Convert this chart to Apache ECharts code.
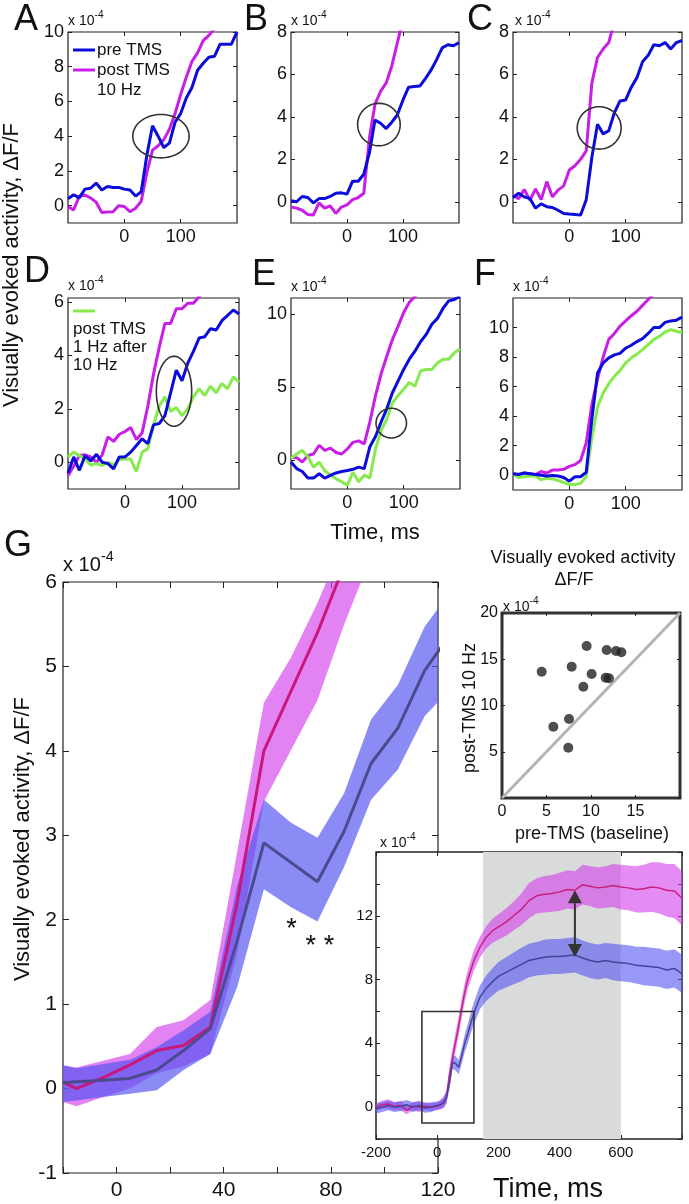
<!DOCTYPE html>
<html>
<head>
<meta charset="utf-8">
<title>TMS visually evoked activity</title>
<script src="https://cdn.jsdelivr.net/npm/echarts@6/dist/echarts.min.js"></script>
<style>
html, body { margin: 0; padding: 0; background: #fff; }
#main { width: 689px; height: 1204px; }
</style>
</head>
<body>
<div id="main"></div>
<script>
// time base (ms) for panels A-F
var t10 = [-100,-90,-80,-70,-60,-50,-40,-30,-20,-10,0,10,20,30,40,50,60,70,80,90,100,110,120,130,140,150,160,170,180,190,200];

// A
var aPre  = [0.4,0.63,0.45,0.95,1.0,1.3,0.9,1.1,1.05,1.05,0.95,0.9,0.55,0.8,2.9,4.6,4.0,3.35,3.6,4.8,5.3,6.2,6.8,7.8,8.2,8.55,8.6,9.3,9.3,9.3,10.0];
var aPost = [-0.05,-0.25,0.55,0.6,0.45,0.2,-0.4,-0.37,-0.35,0.0,-0.05,-0.35,-0.15,0.25,1.9,3.2,3.45,3.8,4.4,5.3,6.4,7.4,8.3,8.8,9.5,9.8,10.2,10.8];
// B
var bPre  = [0.05,0.0,0.25,0.2,-0.05,0.15,0.15,0.25,0.4,0.42,0.36,0.97,0.97,1.3,2.3,3.85,3.7,3.45,3.75,4.1,4.8,5.4,5.43,5.45,5.8,6.2,6.7,7.25,7.4,7.35,7.5];
var bPost = [-0.25,-0.3,-0.4,-0.6,-0.62,-0.05,-0.3,-0.2,-0.55,-0.25,-0.15,0.1,0.2,0.4,3.0,4.6,5.2,5.6,6.4,7.5,8.6];
// C
var cPre  = [0.2,0.4,0.23,0.15,-0.3,-0.1,-0.23,-0.27,-0.4,-0.55,-0.58,-0.6,-0.62,0.1,2.1,3.65,3.2,3.35,4.2,4.75,4.8,5.4,5.85,6.6,6.9,7.4,7.35,7.5,7.2,7.5,7.6];
var cPost = [0.3,0.15,0.58,0.08,0.6,0.1,0.95,0.23,0.55,0.75,1.5,1.7,2.0,2.4,5.6,6.8,7.2,7.5,8.5];
// D
var dPre   = [-0.4,0.2,-0.3,0.25,0.05,0.3,0.0,-0.05,-0.25,0.2,0.2,0.38,0.63,0.88,0.7,1.4,1.45,1.75,2.6,3.45,3.05,3.7,4.15,4.65,4.7,5.0,4.95,5.3,5.5,5.7,5.55];
var dPost  = [-0.5,-0.15,0.25,0.28,0.2,0.0,0.28,0.95,0.78,1.05,1.15,1.3,0.85,1.1,2.1,3.3,4.3,5.2,5.2,5.75,5.75,5.95,5.95,6.2,6.4];
var dGreen = [0.2,0.38,0.25,0.12,-0.1,-0.05,-0.12,0.0,-0.1,0.1,0.12,0.12,-0.35,0.38,0.5,1.4,2.1,2.45,1.9,2.05,1.75,2.0,2.45,2.75,2.5,2.85,2.6,2.95,2.75,3.2,3.0];
// E
var ePre   = [-0.15,-0.6,-0.8,-1.25,-1.25,-0.95,-1.25,-1.07,-0.9,-0.8,-0.73,-0.65,-0.5,-0.6,0.9,1.6,2.6,3.5,4.6,5.4,6.2,6.9,7.45,8.1,8.6,9.3,9.7,10.4,10.9,11.0,11.2];
var ePost  = [0.18,0.15,-0.15,0.3,0.4,1.0,0.65,0.8,0.5,0.4,0.75,1.2,1.3,1.1,2.6,4.4,5.9,7.1,8.25,9.15,10.1,10.8,11.2,11.6];
var eGreen = [0.1,0.4,0.65,0.2,-0.5,-0.15,-0.75,-1.05,-1.3,-1.5,-1.75,-0.85,-1.5,-1.05,-1.25,0.75,2.0,2.8,3.9,4.4,4.85,5.3,5.05,6.1,6.2,6.2,6.65,6.9,6.9,7.35,7.6];
// F
var fPre   = [0.1,0.05,0.15,0.1,0.05,0.0,-0.05,-0.02,-0.05,-0.15,-0.4,-0.1,-0.1,0.2,3.8,6.9,7.6,7.95,8.15,8.25,8.6,8.8,9.05,9.25,9.6,10.0,10.0,10.35,10.45,10.5,10.7];
var fPost  = [0.1,0.05,0.15,0.1,0.05,0.25,0.15,0.35,0.35,0.4,0.6,0.72,1.0,2.2,4.8,6.5,8.0,9.2,9.6,10.1,10.45,10.8,11.1,11.5,11.9,12.3];
var fGreen = [0.1,-0.15,-0.1,-0.05,-0.05,-0.3,-0.2,-0.25,-0.35,-0.5,-0.63,-0.63,-0.55,-0.1,2.5,4.6,5.56,6.2,6.7,7.1,7.6,7.95,8.2,8.5,8.85,9.2,9.4,9.7,9.85,9.75,9.65];

// circled regions: [time, value, x radius (ms), y radius]
var ellA = [65, 4.0, 50, 1.25];
var ellB = [57, 3.64, 38, 1.0];
var ellC = [53, 3.48, 39, 1.0];
var ellD = [86, 2.66, 31, 1.31];
var ellE = [78, 2.52, 27, 1.02];

// G: group means with shaded error
var gTime      = [-20,-15,-5,5,15,25,35,45,55,65,75,85,95,105,115,125];
var gPostMean  = [0.08,0.0,0.13,0.28,0.45,0.51,0.73,2.2,4.0,4.7,5.4,6.2,7.0,7.8,8.5,9.2];
var gPostUpper = [0.27,0.25,0.33,0.41,0.73,0.81,1.05,2.8,4.57,5.1,5.75,6.5,7.3,8.1,8.8,9.5];
var gPostLower = [-0.16,-0.21,-0.1,0.0,0.18,0.26,0.41,1.6,3.4,4.0,4.6,5.5,6.3,7.0,7.7,8.4];
var gPreMean   = [0.07,0.08,0.1,0.12,0.22,0.45,0.71,1.75,2.91,2.68,2.45,3.05,3.85,4.27,4.95,5.4];
var gPreUpper  = [0.28,0.24,0.29,0.34,0.49,0.69,0.91,2.4,3.42,3.15,2.97,3.5,4.37,4.78,5.47,5.9];
var gPreLower  = [-0.16,-0.14,-0.1,-0.06,-0.02,0.22,0.41,1.2,2.36,2.15,1.98,2.63,3.42,3.78,4.41,4.75];
var gStarPos   = [[65.3, 1.96], [75.9, 1.755]];
var gStarText  = ['*', '* *'];

// scatter: pre vs post (x 10^-4)
var scatterPre  = [4.46,5.77,7.45,7.53,7.83,9.14,9.51,10.07,11.65,12.02,11.76,12.81,13.41];
var scatterPost = [13.65,7.71,5.44,8.54,14.2,12.03,16.43,13.4,13.0,12.94,16.0,15.89,15.75];
var identityLine = [0, 20];

// long time course inset
var insetT = [-200,-180,-160,-140,-120,-100,-80,-60,-40,-20,0,10,20,30,40,50,60,70,80,90,100,110,120,140,160,180,200,225,250,275,300,325,350,375,400,425,450,475,500,525,550,575,600,625,650,675,700,725,750,775,800];
var insetPostMean = [0.0,0.15,0.2,0.05,0.1,-0.2,0.05,0.0,0.05,0.0,0.05,0.15,0.3,0.6,2.0,3.1,4.1,5.05,6.2,7.2,8.0,8.6,9.2,10.05,10.65,11.05,11.3,11.6,12.0,12.4,12.95,13.25,13.35,13.4,13.5,13.65,13.6,13.95,13.85,13.75,13.8,13.9,13.8,13.75,13.65,13.7,13.8,13.75,13.6,13.55,13.1];
var insetPostSem  = [0.25,0.25,0.3,0.25,0.3,0.25,0.25,0.3,0.25,0.25,0.25,0.3,0.35,0.4,0.5,0.55,0.6,0.6,0.6,0.6,0.6,0.62,0.65,0.65,0.7,0.75,0.8,0.85,0.9,1.0,1.1,1.1,1.15,1.15,1.2,1.2,1.2,1.25,1.25,1.3,1.3,1.35,1.4,1.4,1.45,1.5,1.55,1.6,1.65,1.7,1.7];
var insetPreMean  = [-0.1,0.0,0.1,0.0,0.05,0.15,0.0,0.1,-0.05,0.0,0.1,0.15,0.25,0.6,1.5,2.8,2.75,2.5,3.2,4.0,4.6,5.3,5.9,6.9,7.45,7.85,8.2,8.45,8.7,8.95,9.2,9.3,9.4,9.45,9.45,9.5,9.55,9.35,9.2,9.1,9.2,9.1,9.05,9.0,8.9,8.85,8.8,8.75,8.6,8.7,8.35];
var insetPreSem   = [0.3,0.3,0.3,0.3,0.3,0.3,0.3,0.3,0.3,0.3,0.25,0.25,0.3,0.35,0.4,0.4,0.45,0.45,0.5,0.55,0.6,0.65,0.7,0.75,0.8,0.85,0.9,0.95,1.0,1.05,1.05,1.05,1.1,1.1,1.1,1.1,1.1,1.1,1.1,1.1,1.1,1.15,1.15,1.15,1.15,1.2,1.2,1.2,1.2,1.2,1.2];
var insetWindow = [150, 600];
var insetZoomBox = [-50, -1, 120, 6];
var insetArrow = [450, 13.6, 9.41];

var FONT = '"Liberation Sans", Arial, sans-serif';
var BLUE = '#0b0bdc', MAG = '#c81ee6', GREEN = '#86ea4c';

var grids = [], xAxes = [], yAxes = [], series = [], graphics = [];

// one framed plot: grid + bottom/top x axes + left/right y axes
function addPanel(c) {
  var zl = c.zlevel || 0;
  var gi = grids.length;
  grids.push({
    left: c.box[0], top: c.box[1], width: c.box[2], height: c.box[3],
    show: true, borderColor: c.borderColor || '#222', borderWidth: c.border || 1.2,
    backgroundColor: c.bg || 'transparent', zlevel: zl, containLabel: false, outerBoundsMode: 'none'
  });
  var tick = {show: true, inside: true, length: c.tick || 4, lineStyle: {color: '#222', width: 1}};
  var lbl = {color: '#111', fontFamily: FONT, fontSize: c.fs};
  var line = {show: false, onZero: false};
  var xi = xAxes.length, yi = yAxes.length;
  xAxes.push({gridIndex: gi, type: 'value', min: c.x[0], max: c.x[1], position: 'bottom', zlevel: zl,
    axisLine: line, splitLine: {show: false},
    axisTick: Object.assign({customValues: c.xt}, tick),
    axisLabel: Object.assign({customValues: c.xl, margin: c.xm || 5}, lbl)});
  xAxes.push({gridIndex: gi, type: 'value', min: c.x[0], max: c.x[1], position: 'top', zlevel: zl,
    axisLine: line, splitLine: {show: false},
    axisTick: Object.assign({customValues: c.xt}, tick), axisLabel: {show: false}});
  yAxes.push({gridIndex: gi, type: 'value', min: c.y[0], max: c.y[1], position: 'left', zlevel: zl,
    axisLine: line, splitLine: {show: false},
    axisTick: Object.assign({customValues: c.yt}, tick),
    axisLabel: Object.assign({customValues: c.yl, margin: c.ym || 4}, lbl)});
  yAxes.push({gridIndex: gi, type: 'value', min: c.y[0], max: c.y[1], position: 'right', zlevel: zl,
    axisLine: line, splitLine: {show: false},
    axisTick: Object.assign({customValues: c.yt}, tick), axisLabel: {show: false}});
  return {x: xi, y: yi, zl: zl};
}

function pairs(t, v) {
  var d = [];
  for (var i = 0; i < v.length; i++) d.push([t[i], v[i]]);
  return d;
}

function addLine(ax, t, v, color, width, z) {
  series.push({type: 'line', xAxisIndex: ax.x, yAxisIndex: ax.y, data: pairs(t, v),
    symbol: 'none', silent: true, clip: true, zlevel: ax.zl, z: z || 3,
    lineStyle: {color: color, width: width}});
}

function addBand(ax, t, lo, hi, fill, z) {
  series.push({type: 'custom', xAxisIndex: ax.x, yAxisIndex: ax.y, data: [[t[0], lo[0]]],
    silent: true, clip: true, zlevel: ax.zl, z: z || 2,
    renderItem: function (params, api) {
      var pts = [], i;
      for (i = 0; i < t.length; i++) pts.push(api.coord([t[i], hi[i]]));
      for (i = t.length - 1; i >= 0; i--) pts.push(api.coord([t[i], lo[i]]));
      var cs = params.coordSys;
      return {type: 'polygon', shape: {points: pts}, style: {fill: fill},
        clipPath: {type: 'rect', shape: {x: cs.x, y: cs.y, width: cs.width, height: cs.height}}};
    }});
}

function addEllipse(ax, e) {
  series.push({type: 'custom', xAxisIndex: ax.x, yAxisIndex: ax.y, data: [e], silent: true, z: 5,
    renderItem: function (params, api) {
      var c = api.coord([api.value(0), api.value(1)]);
      var s = api.size([api.value(2), api.value(3)]);
      var pts = [];
      for (var k = 0; k < 72; k++) {
        var a = k / 72 * Math.PI * 2;
        pts.push([c[0] + s[0] * Math.cos(a), c[1] + s[1] * Math.sin(a)]);
      }
      return {type: 'polygon', shape: {points: pts}, style: {fill: 'none', stroke: '#333', lineWidth: 1.6}};
    }});
}

function txt(x, y, s, fs, o) {
  o = o || {};
  graphics.push({type: 'text', x: x, y: y, rotation: o.rot || 0, z: 50, zlevel: o.zl || 0,
    style: {text: s, fontSize: fs, fontFamily: FONT, fill: o.color || '#111',
      align: o.align || 'left', verticalAlign: 'middle'}});
}

function sci(x, y, fs) {
  txt(x, y, 'x 10', fs);
  txt(x + fs * 1.9, y - fs * 0.42, '-4', fs * 0.72);
}

function legLine(x1, x2, y, color) {
  graphics.push({type: 'line', z: 50, shape: {x1: x1, y1: y, x2: x2, y2: y},
    style: {stroke: color, lineWidth: 3}});
}

// ---- panels A-F ----
var topPanels = [
  {box: [68, 32, 169, 191], y: [-1, 10], yt: [0, 2, 4, 6, 8, 10], lines: [[aPost, MAG], [aPre, BLUE]], ell: ellA},
  {box: [291, 32, 168, 191], y: [-1, 8], yt: [0, 2, 4, 6, 8], lines: [[bPost, MAG], [bPre, BLUE]], ell: ellB},
  {box: [513, 32, 169, 191], y: [-1, 8], yt: [0, 2, 4, 6, 8], lines: [[cPost, MAG], [cPre, BLUE]], ell: ellC},
  {box: [68, 298, 171, 191], y: [-1, 6.15], yt: [0, 2, 4, 6], lines: [[dPost, MAG], [dGreen, GREEN], [dPre, BLUE]], ell: ellD},
  {box: [291, 298, 169, 191], y: [-2, 11.1], yt: [0, 5, 10], lines: [[ePost, MAG], [eGreen, GREEN], [ePre, BLUE]], ell: ellE},
  {box: [513, 298, 169, 192], y: [-1, 12], yt: [0, 2, 4, 6, 8, 10], lines: [[fPost, MAG], [fGreen, GREEN], [fPre, BLUE]], ell: null}
];
topPanels.forEach(function (p) {
  var ax = addPanel({box: p.box, x: [-100, 200], xt: [0, 100], xl: [0, 100],
    y: p.y, yt: p.yt, yl: p.yt, fs: 18, tick: 4});
  p.lines.forEach(function (l) { addLine(ax, t10, l[0], l[1], 3); });
  if (p.ell) addEllipse(ax, p.ell);
});

// ---- panel G ----
var axG = addPanel({box: [63, 582, 375, 591], x: [-20, 120], xt: [-20, 0, 20, 40, 60, 80, 100, 120], xl: [0, 40, 80, 120],
  y: [-1, 6], yt: [-1, 0, 1, 2, 3, 4, 5, 6], yl: [-1, 0, 1, 2, 3, 4, 5, 6], fs: 21, tick: 6, xm: 7, ym: 6});
addBand(axG, gTime, gPostLower, gPostUpper, 'rgba(212,64,236,0.65)', 2);
addBand(axG, gTime, gPreLower, gPreUpper, 'rgba(84,84,240,0.68)', 2);
addLine(axG, gTime, gPostMean, '#c8187e', 3, 3);
addLine(axG, gTime, gPreMean, '#4b4a8e', 3, 3);
series.push({type: 'custom', xAxisIndex: axG.x, yAxisIndex: axG.y, data: gStarPos, silent: true, z: 6,
  renderItem: function (params, api) {
    var c = api.coord([api.value(0), api.value(1)]);
    return {type: 'text', x: c[0], y: c[1] + 6,
      style: {text: gStarText[params.dataIndex], fontSize: 27, fontFamily: FONT, fill: '#111',
        align: 'center', verticalAlign: 'middle'}};
  }});

// ---- scatter inset ----
var axS = addPanel({box: [502, 613, 178, 185], x: [0, 20], xt: [0, 5, 10, 15, 20], xl: [0, 5, 10, 15],
  y: [0, 20], yt: [0, 5, 10, 15, 20], yl: [5, 10, 15, 20], fs: 16, tick: 3, border: 3, borderColor: '#333', xm: 6, ym: 4});
addLine(axS, identityLine, identityLine, '#b4b4b4', 3, 2);
series.push({type: 'scatter', xAxisIndex: axS.x, yAxisIndex: axS.y, data: pairs(scatterPre, scatterPost),
  symbolSize: 10, silent: true, z: 4, itemStyle: {color: '#222'}});

// ---- long time-course inset (drawn on its own layer so it covers G) ----
var axI = addPanel({box: [376, 852, 306, 287], x: [-200, 800], xt: [-200, 0, 200, 400, 600, 800], xl: [-200, 0, 200, 400, 600],
  y: [-2, 16], yt: [-2, 0, 2, 4, 6, 8, 10, 12, 14, 16], yl: [0, 4, 8, 12], fs: 15, tick: 4,
  zlevel: 1, bg: '#ffffff', border: 1.5, xm: 6, ym: 3});
series.push({type: 'custom', xAxisIndex: axI.x, yAxisIndex: axI.y, data: [insetWindow], silent: true, zlevel: 1, z: 1,
  renderItem: function (params, api) {
    var p0 = api.coord([api.value(0), 16]), p1 = api.coord([api.value(1), -2]);
    return {type: 'rect', shape: {x: p0[0], y: p0[1], width: p1[0] - p0[0], height: p1[1] - p0[1]},
      style: {fill: '#d9dada'}};
  }});
var postLo = [], postHi = [], preLo = [], preHi = [];
for (var i = 0; i < insetT.length; i++) {
  postLo.push(insetPostMean[i] - insetPostSem[i]); postHi.push(insetPostMean[i] + insetPostSem[i]);
  preLo.push(insetPreMean[i] - insetPreSem[i]); preHi.push(insetPreMean[i] + insetPreSem[i]);
}
addBand(axI, insetT, postLo, postHi, 'rgba(212,64,236,0.6)', 2);
addBand(axI, insetT, preLo, preHi, 'rgba(84,84,240,0.6)', 2);
addLine(axI, insetT, insetPostMean, '#c8207e', 1.5, 3);
addLine(axI, insetT, insetPreMean, '#44449a', 1.5, 3);
series.push({type: 'custom', xAxisIndex: axI.x, yAxisIndex: axI.y, data: [insetZoomBox], silent: true, zlevel: 1, z: 5,
  renderItem: function (params, api) {
    var p0 = api.coord([api.value(0), api.value(3)]), p1 = api.coord([api.value(2), api.value(1)]);
    return {type: 'rect', shape: {x: p0[0], y: p0[1], width: p1[0] - p0[0], height: p1[1] - p0[1]},
      style: {fill: 'none', stroke: '#333', lineWidth: 1.6}};
  }});
series.push({type: 'custom', xAxisIndex: axI.x, yAxisIndex: axI.y, data: [insetArrow], silent: true, zlevel: 1, z: 6,
  renderItem: function (params, api) {
    var a = api.coord([api.value(0), api.value(1)]), b = api.coord([api.value(0), api.value(2)]);
    var w = 7, h = 13;
    return {type: 'group', children: [
      {type: 'line', shape: {x1: a[0], y1: a[1] + h, x2: b[0], y2: b[1] - h}, style: {stroke: '#333', lineWidth: 2}},
      {type: 'polygon', shape: {points: [[a[0], a[1]], [a[0] - w, a[1] + h], [a[0] + w, a[1] + h]]}, style: {fill: '#333'}},
      {type: 'polygon', shape: {points: [[b[0], b[1]], [b[0] - w, b[1] - h], [b[0] + w, b[1] - h]]}, style: {fill: '#333'}}
    ]};
  }});

// ---- texts ----
txt(14, 20, 'A', 36); txt(244, 20, 'B', 36); txt(467, 20, 'C', 36);
txt(24, 272, 'D', 36); txt(252, 275, 'E', 36); txt(474, 275, 'F', 36);
txt(4, 546, 'G', 36);
sci(68, 21, 14); sci(291, 21, 14); sci(515, 21, 14);
sci(68, 286, 14); sci(291, 287, 14); sci(513, 287, 14);
sci(63, 565, 20);
sci(503, 607, 14);
sci(380, 843, 14);
txt(12, 265, 'Visually evoked activity, \u0394F/F', 22, {rot: Math.PI / 2, align: 'center'});
txt(375, 533, 'Time, ms', 22, {align: 'center'});
txt(23, 839, 'Visually evoked activity, \u0394F/F', 22, {rot: Math.PI / 2, align: 'center'});
txt(548, 1190, 'Time, ms', 27, {align: 'center'});
txt(583, 558, 'Visually evoked activity', 18, {align: 'center'});
txt(574, 580, '\u0394F/F', 18, {align: 'center'});
txt(470, 708, 'post-TMS 10 Hz', 18, {rot: Math.PI / 2, align: 'center'});
txt(592, 834, 'pre-TMS (baseline)', 18, {align: 'center'});
// legends
legLine(73, 95, 50, BLUE); txt(97, 50, 'pre TMS', 17);
legLine(73, 95, 70, MAG); txt(97, 70, 'post TMS', 17); txt(97, 90, '10 Hz', 17);
legLine(73, 95, 311, GREEN); txt(73, 329, 'post TMS', 17); txt(73, 347, '1 Hz after', 17); txt(73, 365, '10 Hz', 17);

var chart = echarts.init(document.getElementById('main'));
chart.setOption({
  animation: false,
  backgroundColor: '#ffffff',
  grid: grids,
  xAxis: xAxes,
  yAxis: yAxes,
  series: series,
  graphic: {elements: graphics}
});
</script>
</body>
</html>
